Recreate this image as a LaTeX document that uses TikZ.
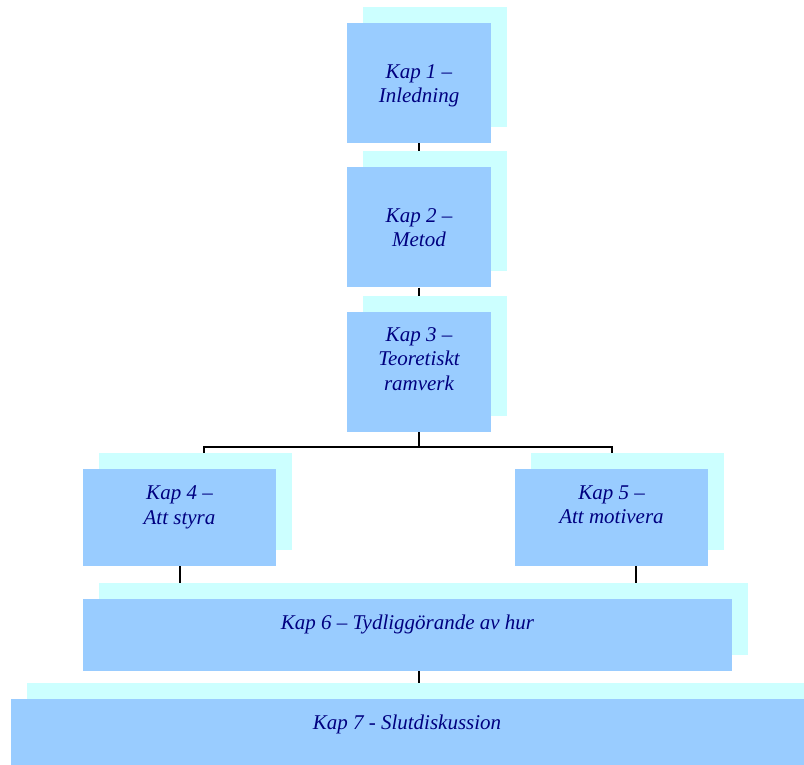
\documentclass[tikz,border=0pt]{standalone}
\usepackage{fontspec}
\setmainfont{Liberation Serif}
\usetikzlibrary{positioning, shadows, backgrounds}
\definecolor{boxblue}{RGB}{153, 204, 255}
\definecolor{shadowcyan}{RGB}{204, 255, 255}
\definecolor{textnavy}{RGB}{0, 0, 128}

\begin{document}
\begin{tikzpicture}[
    x=1pt, y=-1pt,
    node distance=24pt,
    kap/.style 2 args={fill=boxblue, inner sep=0pt, minimum width=#1, minimum height=#2,
                general shadow={shadow xshift=16pt, shadow yshift=16pt, fill=shadowcyan}},
    kaptext/.style={text=textnavy, font=\fontsize{21}{24.5}\selectfont\itshape,
                align=center, inner sep=0pt},
    link/.style={line width=2pt}
]
    \useasboundingbox (0,0) rectangle (804,764);

    % Boxes
    \node[kap={144pt}{120pt}] (kap1) at (419,83) {};
    \node[kap={144pt}{120pt}, below=of kap1] (kap2) {};
    \node[kap={144pt}{120pt}, below=of kap2] (kap3) {};
    \node[kap={193pt}{97pt}] (kap4) at (179.5,517) {};
    \node[kap={193pt}{97pt}] (kap5) at (611.5,517) {};
    \node[kap={649pt}{72pt}] (kap6) at (407.5,635) {};
    \node[kap={820pt}{80pt}] (kap7) at (421,739) {};

    % Texts
    \node[kaptext] (kap1t) at ([shift={(0,3)}]kap1.center) {Kap 1 –\\Inledning};
    \node[kaptext] (kap2t) at (kap2.center) {Kap 2 –\\Metod};
    \node[kaptext] (kap3t) at ([shift={(0,-13)}]kap3.center) {Kap 3 –\\Teoretiskt\\ramverk};
    \node[kaptext] (kap4t) at ([shift={(0,-9.5)}]kap4.center) {Kap 4 –\\Att styra};
    \node[kaptext] (kap5t) at ([shift={(0,-12.5)}]kap5.center) {Kap 5 –\\Att motivera};
    \node[kaptext] (kap6t) at ([shift={(0,-11)}]kap6.center) {Kap 6 – Tydliggörande av hur};
    \node[kaptext] (kap7t) at ([shift={(-14,-15)}]kap7.center) {Kap 7 - Slutdiskussion};

    % Lines
    \begin{scope}[on background layer]
        \draw[link] (kap1.south) -- (kap2.north);
        \draw[link] (kap2.south) -- (kap3.north);
        \draw[link] (kap3.south) -- ++(0,15) -| ([xshift=24pt]kap4.north);
        \draw[link] (kap3.south) -- ++(0,15) -| (kap5.north);
        \draw[link] (kap4.south) -- (kap4.south |- kap6.north);
        \draw[link] ([xshift=24pt]kap5.south) -- ([xshift=24pt]kap5.south |- kap6.north);
        \draw[link] ([xshift=11.5pt]kap6.south) -- ([xshift=11.5pt]kap6.south |- kap7.north);
    \end{scope}
\end{tikzpicture}
\end{document}
